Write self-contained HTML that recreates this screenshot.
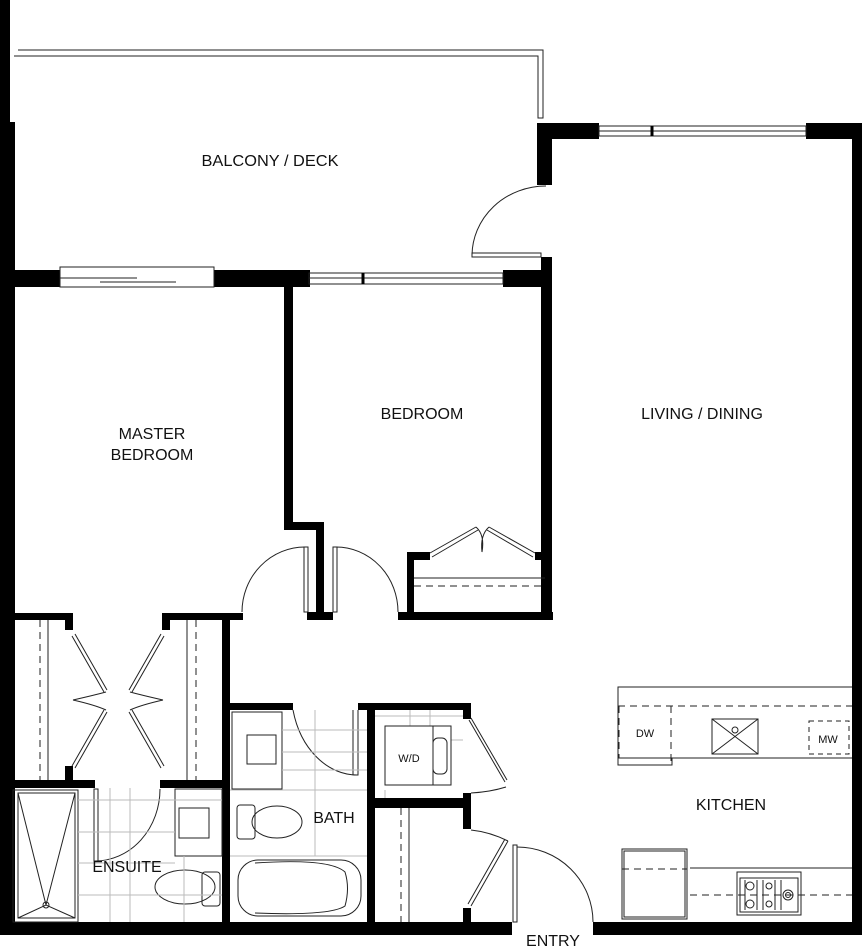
<!DOCTYPE html>
<html><head><meta charset="utf-8"><style>
html,body{margin:0;padding:0;background:#fff;}
svg{display:block;}
text{font-family:"Liberation Sans",sans-serif;fill:#111;}
</style></head><body>
<svg width="862" height="949" viewBox="0 0 862 949" xmlns="http://www.w3.org/2000/svg">
<g fill="#000">
<!-- left outer wall -->
<rect x="0" y="0" width="10" height="935"/>
<rect x="0" y="122" width="15" height="813"/>
<!-- balcony bottom / bedroom top wall -->
<rect x="0" y="270" width="60" height="17"/>
<rect x="214" y="270" width="96" height="17"/>
<rect x="503" y="270" width="48" height="17"/>
<!-- living top -->
<rect x="537" y="123" width="62" height="16"/>
<rect x="806" y="123" width="56" height="16"/>
<rect x="852" y="123" width="10" height="812"/>
<rect x="537" y="123" width="15" height="62"/>
<rect x="541" y="257" width="11" height="363"/>
<!-- bedroom partition -->
<rect x="284" y="285" width="9" height="245"/>
<rect x="284" y="522" width="40" height="8"/>
<rect x="316" y="522" width="8" height="98"/>
<rect x="307" y="612" width="26" height="8"/>
<!-- bedroom closet -->
<rect x="398" y="612" width="155" height="8"/>
<rect x="407" y="552" width="7" height="68"/>
<rect x="407" y="552" width="23" height="8"/>
<rect x="535" y="552" width="12" height="8"/>
<!-- master closet walls -->
<rect x="10" y="613" width="63" height="7"/>
<rect x="65" y="613" width="8" height="17"/>
<rect x="162" y="613" width="81" height="7"/>
<rect x="162" y="613" width="8" height="17"/>
<rect x="222" y="613" width="8" height="322"/>
<rect x="65" y="766" width="8" height="20"/>
<rect x="10" y="780" width="85" height="8"/>
<rect x="160" y="780" width="62" height="8"/>
<!-- bath/laundry -->
<rect x="222" y="703" width="71" height="7"/>
<rect x="358" y="703" width="113" height="7"/>
<rect x="367" y="703" width="8" height="232"/>
<rect x="463" y="703" width="8" height="16"/>
<rect x="375" y="798" width="96" height="10"/>
<rect x="463" y="793" width="8" height="36"/>
<rect x="463" y="908" width="8" height="20"/>
<!-- bottom wall -->
<rect x="0" y="922" width="512" height="13"/>
<rect x="593" y="922" width="269" height="13"/>
</g>
<g fill="none" stroke="#222" stroke-width="1">
<!-- balcony railing -->
<path d="M18 50 H543 V118 H538 V56 H14"/>
<!-- windows -->
<rect x="599" y="126" width="207" height="10"/><line x1="599" y1="131" x2="806" y2="131"/>
<line x1="652" y1="126" x2="652" y2="136" stroke-width="3" stroke="#000"/>
<rect x="309" y="273" width="194" height="11"/><line x1="309" y1="278" x2="503" y2="278"/>
<line x1="363" y1="273" x2="363" y2="284" stroke-width="3" stroke="#000"/>
<rect x="60" y="267" width="154" height="20"/>
<line x1="60" y1="278" x2="137" y2="278"/><line x1="100" y1="282" x2="176" y2="282"/>
<!-- balcony door -->
<path d="M546 186 A74 70 0 0 0 472 256"/>
<rect x="472" y="253" width="69" height="4"/>
<!-- master door -->
<rect x="304" y="547" width="4" height="65"/>
<path d="M305 547 A63 65 0 0 0 242 612"/>
<rect x="333" y="547" width="4" height="65"/>
<path d="M336 547 A62 65 0 0 1 398 612"/>
<!-- bedroom closet bifold -->
<path d="M430 553 L476 527 M432 557 L478 530 M535 553 L489 527 M533 557 L487 530"/>
<path d="M476 527 Q485 535 482 552 Q480 535 489 527"/>
<line x1="414" y1="578" x2="545" y2="578"/>
<line x1="414" y1="586" x2="545" y2="586" stroke-dasharray="7 5"/>
<!-- master closets -->
<line x1="40" y1="620" x2="40" y2="780" stroke-dasharray="7 5"/>
<line x1="48" y1="620" x2="48" y2="780"/>
<line x1="187" y1="620" x2="187" y2="780"/>
<line x1="196" y1="620" x2="196" y2="780" stroke-dasharray="7 5"/>
<path d="M72 636 L104 692 M75 634 L107 690 M72 766 L104 710 M75 768 L107 712"/>
<path d="M73 700 Q95 695 106 692 M73 700 Q95 705 106 710"/>
<path d="M164 636 L132 692 M161 634 L129 690 M164 766 L132 710 M161 768 L129 712"/>
<path d="M163 700 Q141 695 130 692 M163 700 Q141 705 130 710"/>
<!-- ensuite -->
<rect x="13" y="790" width="65" height="132"/>
<rect x="18" y="793" width="57" height="125"/>
<path d="M18 793 L46 905 L75 793 M18 918 L46 905 L75 918"/>
<circle cx="46" cy="905" r="3"/>
<rect x="94" y="789" width="4" height="72"/>
<path d="M160 789 A65 72 0 0 1 95 861"/>
<rect x="175" y="789" width="47" height="67"/>
<rect x="179" y="808" width="30" height="30"/>
<ellipse cx="185" cy="887" rx="30" ry="17"/>
<rect x="202" y="872" width="18" height="34" rx="3"/>
<!-- bath -->
<rect x="232" y="712" width="50" height="77"/>
<rect x="247" y="735" width="29" height="29"/>
<path d="M293 710 A66 85 0 0 0 358 775 M353 710 V775 H358 V710"/>
<rect x="237" y="805" width="18" height="34" rx="3"/>
<ellipse cx="277" cy="822" rx="25" ry="16"/>
<rect x="238" y="860" width="123" height="56" rx="20"/>
<path d="M255 863 Q330 858 345 872 Q350 888 345 906 Q330 916 255 913"/>
<g stroke="#bbb">
<path d="M78 800 H222 M78 832 H175 M78 863 H175 M78 895 H222 M110 788 V922 M130 788 V922 M184 856 V922"/>
<path d="M282 730 H367 M282 752 H367 M282 770 H367 M230 790 H367 M230 856 H367 M315 710 V856"/>
<path d="M375 716 H463 M385 790 V798 M410 710 V726 M430 710 V726 M451 740 H463"/>
</g>
<!-- laundry -->
<rect x="385" y="726" width="66" height="59"/>
<line x1="433" y1="726" x2="433" y2="785"/>
<rect x="433" y="738" width="14" height="36" rx="5"/>
<path d="M469 720 L505 782 M471 718 L507 780"/>
<path d="M471 793 Q490 792 506 787"/>
<!-- entry closet -->
<line x1="401" y1="808" x2="401" y2="922" stroke-dasharray="7 5"/>
<line x1="409" y1="808" x2="409" y2="922"/>
<path d="M471 830 Q490 832 508 841 M508 841 L471 906 M505 839 L468 904"/>
<!-- entry door -->
<rect x="513" y="845" width="4" height="77"/>
<path d="M517 847 A76 75 0 0 1 593 922"/>
<!-- kitchen -->
<path d="M852 687 H618 V758 H852 M618 758 V765 H672 V758"/>
<line x1="618" y1="706" x2="852" y2="706" stroke-dasharray="7 5"/>
<line x1="619" y1="706" x2="619" y2="758" stroke-dasharray="7 5"/>
<line x1="671" y1="706" x2="671" y2="765" stroke-dasharray="7 5"/>
<rect x="712" y="719" width="46" height="35"/>
<path d="M712 719 L758 754 M758 719 L712 754"/>
<circle cx="735" cy="730" r="3"/>
<rect x="809" y="721" width="40" height="33" stroke-dasharray="5 4"/>
<line x1="690" y1="868" x2="852" y2="868"/>
<line x1="690" y1="895" x2="852" y2="895" stroke-dasharray="7 5"/>
<rect x="622" y="849" width="65" height="70"/>
<rect x="624" y="851" width="61" height="66"/>
<line x1="622" y1="869" x2="687" y2="869" stroke-dasharray="7 5"/>
<rect x="737" y="872" width="64" height="43"/>
<rect x="740" y="878" width="58" height="34"/>
<circle cx="750" cy="886" r="4"/><circle cx="769" cy="886" r="3"/><circle cx="750" cy="904" r="4"/><circle cx="769" cy="904" r="3"/><circle cx="788" cy="895" r="5"/><circle cx="788" cy="895" r="2.5"/>
<path d="M745 880 V910 M757 880 V910 M763 880 V910 M775 880 V910 M781 880 V910"/>
</g>
<g font-size="16" text-anchor="middle">
<text x="270" y="166" textLength="137" lengthAdjust="spacingAndGlyphs">BALCONY / DECK</text>
<text x="422" y="419">BEDROOM</text>
<text x="702" y="419">LIVING / DINING</text>
<text x="152" y="439">MASTER</text>
<text x="152" y="460">BEDROOM</text>
<text x="731" y="810">KITCHEN</text>
<text x="334" y="823">BATH</text>
<text x="127" y="872">ENSUITE</text>
<text x="553" y="946">ENTRY</text>
</g>
<g font-size="11" text-anchor="middle">
<text x="409" y="762">W/D</text>
<text x="645" y="737">DW</text>
<text x="828" y="743">MW</text>
</g>
</svg>
</body></html>
